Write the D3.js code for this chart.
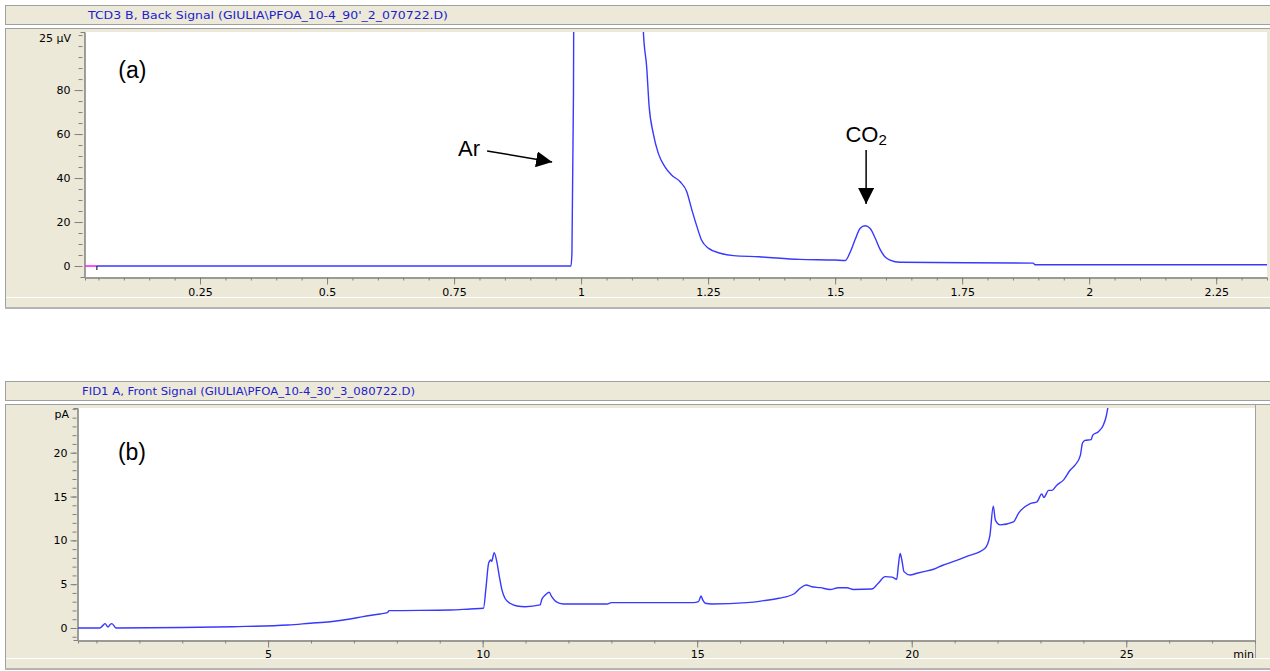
<!DOCTYPE html>
<html>
<head>
<meta charset="utf-8">
<script src="https://cdn.jsdelivr.net/npm/d3@7"></script>
<style>
  body { margin: 0; background: #fff; }
  svg { display: block; font-family: "DejaVu Sans", sans-serif; }
</style>
</head>
<body>
<svg id="chart" width="1270" height="671"></svg>
<script>
// ---- panel (a): TCD back signal, time in min, signal in µV
const timeA = [0.047, 0.980, 0.982, 0.985, 0.990, 1.050, 1.118, 1.1226, 1.129, 1.134,
  1.142, 1.152, 1.165, 1.178, 1.195, 1.208, 1.218, 1.228, 1.237, 1.251,
  1.274, 1.300, 1.350, 1.430, 1.500, 1.520, 1.530, 1.539, 1.549, 1.559,
  1.569, 1.579, 1.589, 1.598, 1.608, 1.628, 1.890, 1.893, 2.350];
const signalA = [0, 0, 6, 78, 400, 900, 400, 106.5, 90.7, 72.4,
  60.3, 51.2, 45.1, 41.4, 38.3, 33.8, 25.5, 17.9, 11.8, 8.0,
  5.8, 4.7, 4.2, 3.0, 2.7, 2.5, 6.5, 11.8, 17.1, 18.3,
  17.1, 12.6, 7.3, 4.2, 2.7, 1.7, 1.3, 0.6, 0.6];
// pink start-of-run segment
const timeStartA = [0.024, 0.047];
const signalStartA = [0, 0];

const xTicksA = [0.25, 0.5, 0.75, 1, 1.25, 1.5, 1.75, 2, 2.25];
const yTicksA = [0, 20, 40, 60, 80];
const yUnitA = "25 µV";
const titleA = "TCD3 B, Back Signal (GIULIA\\PFOA_10-4_90'_2_070722.D)";

// ---- panel (b): FID front signal, time in min, signal in pA
const timeB = [0.57, 1.08, 1.15, 1.2, 1.27, 1.32, 1.36, 1.46, 3.0, 4.18,
  5.47, 5.98, 6.45, 6.91, 7.21, 7.61, 7.78, 7.82, 9.24, 9.71,
  10.02, 10.08, 10.14, 10.19, 10.21, 10.27, 10.33, 10.39, 10.45, 10.52,
  10.64, 10.8, 10.99, 11.34, 11.38, 11.46, 11.55, 11.61, 11.71, 11.88,
  12.9, 13.0, 14.91, 15.03, 15.09, 15.13, 15.19, 15.34, 16.16, 16.55,
  16.9, 17.25, 17.4, 17.54, 17.67, 17.87, 18.1, 18.29, 18.49, 18.64,
  19.07, 19.22, 19.38, 19.54, 19.65, 19.69, 19.73, 19.77, 19.82, 19.96,
  20.12, 20.28, 20.51, 20.74, 20.9, 21.3, 21.71, 21.82, 21.9, 21.95,
  22.06, 22.37, 22.49, 22.76, 22.92, 23.03, 23.08, 23.19, 23.27, 23.38,
  23.54, 23.69, 23.81, 23.93, 23.98, 24.04, 24.18, 24.22, 24.35, 24.47,
  24.53, 24.57, 24.6];
const signalB = [0, 0, 0.3, 0.5, 0.1, 0.4, 0.5, 0, 0.05, 0.15,
  0.34, 0.54, 0.72, 1.03, 1.3, 1.6, 1.75, 1.98, 2.05, 2.17,
  2.25, 4.7, 7.4, 7.76, 7.6, 8.6, 7.57, 5.86, 4.34, 3.39,
  2.82, 2.51, 2.43, 2.63, 3.27, 3.77, 4.07, 3.57, 3.0, 2.74,
  2.74, 2.9, 2.89, 3.0, 3.65, 3.2, 2.82, 2.74, 2.89, 3.12,
  3.39, 3.88, 4.53, 4.9, 4.7, 4.6, 4.4, 4.6, 4.6, 4.4,
  4.45, 5.1, 5.86, 5.8, 5.56, 7.19, 8.5, 7.76, 6.43, 6.05,
  6.24, 6.43, 6.7, 7.19, 7.45, 8.2, 9.1, 10.5, 13.9, 12.3,
  11.76, 12.1, 13.1, 14.2, 14.4, 15.3, 14.9, 15.7, 15.7, 16.3,
  16.9, 18.0, 18.6, 19.7, 21.1, 21.4, 21.5, 22.0, 22.4, 23.2,
  24.1, 25.1, 26];

const xTicksB = [5, 10, 15, 20, 25];
const yTicksB = [0, 5, 10, 15, 20];
const yUnitB = "pA";
const titleB = "FID1 A, Front Signal (GIULIA\\PFOA_10-4_30'_3_080722.D)";

// ---- annotations, placed in data units of panel (a)
const arArrow = {from: [0.815, 52.3], to: [0.943, 47.3], label: [0.801, 50]};
const co2Arrow = {from: [1.561, 52.7], to: [1.561, 28.2], label: [1.561, 56.4]};

const svg = d3.select("#chart");
const beige = "#ece9d8", frameCol = "#a0a0a0", axisCol = "#808080";
const lineCol = "#3838ff", titleCol = "#1c1cd0";

function drawPanel(p) {
  const g = svg.append("g");
  const [x0, x1] = p.x.range();
  const [yb, yt] = p.y.range();

  // title bar
  g.append("rect")
    .attr("x", 5.5).attr("y", p.titleTop + 0.5)
    .attr("width", 1290).attr("height", 19)
    .attr("fill", beige).attr("stroke", frameCol);
  g.append("text")
    .attr("x", p.titleX).attr("y", p.titleTop + 13.5)
    .attr("fill", titleCol).attr("font-size", 10.5)
    .attr("textLength", p.titleLen).attr("lengthAdjust", "spacingAndGlyphs")
    .text(p.title);

  // body
  g.append("rect")
    .attr("x", 5.5).attr("y", p.bodyTop + 0.5)
    .attr("width", 1290).attr("height", p.bodyBottom - p.bodyTop)
    .attr("fill", beige).attr("stroke", frameCol);
  g.append("line")
    .attr("x1", 6).attr("x2", 1270)
    .attr("y1", p.bodyBottom - 9.5).attr("y2", p.bodyBottom - 9.5)
    .attr("stroke", "#fff");
  g.append("line")
    .attr("x1", 5).attr("x2", 1270)
    .attr("y1", p.bodyBottom + 1).attr("y2", p.bodyBottom + 1)
    .attr("stroke", "#b4b4b4").attr("stroke-width", 2);

  // plot area
  g.append("rect")
    .attr("x", x0).attr("y", yt)
    .attr("width", x1 - x0).attr("height", yb - yt)
    .attr("fill", "#fff");
  if (p.rightBorder) {
    g.append("line")
      .attr("x1", x1 + 0.5).attr("x2", x1 + 0.5)
      .attr("y1", p.bodyTop).attr("y2", p.bodyBottom - 10)
      .attr("stroke", frameCol);
  }

  // axes: major + minor ticks
  const styleAxis = a => {
    a.selectAll("path, line").attr("stroke", axisCol);
    a.selectAll("text").attr("fill", "#000").attr("font-size", 11)
      .attr("font-family", "DejaVu Sans, sans-serif");
  };
  g.append("g")
    .attr("transform", `translate(0,${yb + 0.5})`)
    .call(d3.axisBottom(p.x).tickValues(p.xMinor).tickSize(3).tickFormat(""))
    .call(styleAxis);
  g.append("g")
    .attr("transform", `translate(0,${yb + 0.5})`)
    .call(d3.axisBottom(p.x).tickValues(p.xTicks).tickSizeInner(7).tickSizeOuter(0)
      .tickPadding(p.xPad).tickFormat(d => String(d)))
    .call(styleAxis);
  g.append("g")
    .attr("transform", `translate(${x0 - 0.5},0)`)
    .call(d3.axisLeft(p.y).tickValues(p.yMinor).tickSize(4).tickFormat(""))
    .call(a => a.selectAll("line").attr("transform", `translate(${-p.yGap},0)`))
    .call(styleAxis);
  g.append("g")
    .attr("transform", `translate(${x0 - 0.5},0)`)
    .call(d3.axisLeft(p.y).tickValues(p.yTicks).tickSizeInner(p.yTick).tickSizeOuter(0)
      .tickPadding(p.yPad).tickFormat(d => String(d)))
    .call(a => a.selectAll("line").attr("transform", `translate(${-p.yGap},0)`))
    .call(a => a.selectAll("text").attr("transform", `translate(${-p.yGap},0)`))
    .call(styleAxis);

  // unit label at the top of the y axis
  g.append("text")
    .attr("x", p.unitX).attr("y", yt + p.unitDy)
    .attr("text-anchor", "end").attr("font-size", 11)
    .text(p.unit);

  // clipped signal
  const clipId = "clip-" + p.name;
  svg.append("clipPath").attr("id", clipId)
    .append("rect").attr("x", x0).attr("y", yt)
    .attr("width", x1 - x0).attr("height", yb - yt);
  const line = d3.line().x(d => p.x(d[0])).y(d => p.y(d[1]))
    .curve(d3.curveMonotoneX);
  const plot = g.append("g").attr("clip-path", `url(#${clipId})`);
  (p.extra || []).forEach(s => {
    plot.append("path")
      .attr("d", line(d3.zip(s.t, s.v)))
      .attr("fill", "none").attr("stroke", s.color).attr("stroke-width", 1.4);
  });
  plot.append("path")
    .attr("d", line(d3.zip(p.t, p.v)))
    .attr("fill", "none").attr("stroke", lineCol)
    .attr("stroke-width", 1.4).attr("stroke-linejoin", "round");

  // panel letter
  g.append("text")
    .attr("x", p.x(p.letterAt[0])).attr("y", p.y(p.letterAt[1]))
    .attr("font-family", "Liberation Sans, Arial, sans-serif")
    .attr("font-size", 23).text(p.letter);
  return g;
}

const xA = d3.scaleLinear([0.0236, 2.35], [85, 1267]);
const yA = d3.scaleLinear([-5, 106.4], [277, 32]);
const gA = drawPanel({
  name: "a", x: xA, y: yA, t: timeA, v: signalA,
  extra: [{t: timeStartA, v: signalStartA, color: "#ff00ff"}],
  title: titleA, titleTop: 5, titleX: 88, titleLen: 360,
  bodyTop: 28, bodyBottom: 307,
  xTicks: xTicksA, xMinor: d3.range(1, 47).map(i => i * 0.05), xPad: 4,
  yTicks: yTicksA, yMinor: d3.range(1, 22).map(i => i * 5), yTick: 8, yPad: 4, yGap: 2,
  unit: yUnitA, unitX: 71, unitDy: 10,
  letter: "(a)", letterAt: [0.089, 85.5]
});

// start marker
gA.append("line")
  .attr("x1", xA(timeStartA[1])).attr("x2", xA(timeStartA[1]))
  .attr("y1", yA(0)).attr("y2", yA(0) + 4)
  .attr("stroke", "#000");

const xB = d3.scaleLinear([0.57, 28.0], [78, 1255]);
const yB = d3.scaleLinear([-1.37, 25.1], [640, 408]);
const gB = drawPanel({
  name: "b", x: xB, y: yB, t: timeB, v: signalB,
  title: titleB, titleTop: 381, titleX: 82, titleLen: 333,
  bodyTop: 404, bodyBottom: 668, rightBorder: true,
  xTicks: xTicksB, xMinor: d3.range(1, 28), xPad: 3,
  yTicks: yTicksB, yMinor: d3.range(-1, 26), yTick: 6, yPad: 3, yGap: 1,
  unit: yUnitB, unitX: 69, unitDy: 10,
  letter: "(b)", letterAt: [1.5, 19.2]
});
gB.append("text")
  .attr("x", 1254).attr("y", 640 + 7 + 3 + 8)
  .attr("text-anchor", "end").attr("font-size", 11)
  .text("min");

// arrows and labels on panel (a)
svg.append("defs").append("marker")
  .attr("id", "head").attr("viewBox", "0 0 10 10")
  .attr("refX", 10).attr("refY", 5)
  .attr("markerWidth", 16).attr("markerHeight", 16)
  .attr("markerUnits", "userSpaceOnUse").attr("orient", "auto")
  .append("path").attr("d", "M0,0L10,5L0,10Z").attr("fill", "#000");

[arArrow, co2Arrow].forEach(a => {
  gA.append("line")
    .attr("x1", xA(a.from[0])).attr("y1", yA(a.from[1]))
    .attr("x2", xA(a.to[0])).attr("y2", yA(a.to[1]))
    .attr("stroke", "#000").attr("stroke-width", 1.5)
    .attr("marker-end", "url(#head)");
});

gA.append("text")
  .attr("x", xA(arArrow.label[0])).attr("y", yA(arArrow.label[1]))
  .attr("text-anchor", "end")
  .attr("font-family", "Liberation Sans, Arial, sans-serif").attr("font-size", 22)
  .text("Ar");

const co2 = gA.append("text")
  .attr("x", xA(co2Arrow.label[0])).attr("y", yA(co2Arrow.label[1]))
  .attr("text-anchor", "middle")
  .attr("font-family", "Liberation Sans, Arial, sans-serif").attr("font-size", 22);
co2.append("tspan").text("CO");
co2.append("tspan").attr("font-size", 15).attr("dy", 3).text("2");
</script>
</body>
</html>
